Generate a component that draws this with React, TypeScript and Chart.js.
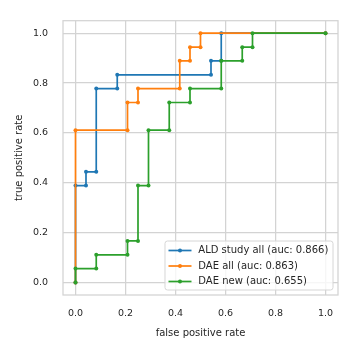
import { useEffect, useRef } from 'react';
import { Chart, registerables } from 'chart.js';

Chart.register(...registerables);

const seriesLabels = ['ALD study all (auc: 0.866)', 'DAE all (auc: 0.863)', 'DAE new (auc: 0.655)'];
const seriesColors = ['#1f77b4', '#ff7f0e', '#2ca02c'];

const aldFpr = [0, 0, 0.042, 0.042, 0.083, 0.083, 0.167, 0.167, 0.542, 0.542, 0.583, 0.583, 1.0];
const aldTpr = [0, 0.389, 0.389, 0.444, 0.444, 0.778, 0.778, 0.833, 0.833, 0.889, 0.889, 1.0, 1.0];

const daeAllFpr = [0, 0, 0.208, 0.208, 0.25, 0.25, 0.417, 0.417, 0.458, 0.458, 0.5, 0.5, 1.0];
const daeAllTpr = [0, 0.611, 0.611, 0.722, 0.722, 0.778, 0.778, 0.889, 0.889, 0.944, 0.944, 1.0, 1.0];

const daeNewFpr = [0, 0, 0.083, 0.083, 0.208, 0.208, 0.25, 0.25, 0.292, 0.292, 0.375, 0.375, 0.458, 0.458, 0.583, 0.583, 0.667, 0.667, 0.708, 0.708, 1.0];
const daeNewTpr = [0, 0.056, 0.056, 0.111, 0.111, 0.167, 0.167, 0.389, 0.389, 0.611, 0.611, 0.722, 0.722, 0.778, 0.778, 0.889, 0.889, 0.944, 0.944, 1.0, 1.0];

const tickValues = [0, 0.2, 0.4, 0.6, 0.8, 1.0];
const tickLabels = ['0.0', '0.2', '0.4', '0.6', '0.8', '1.0'];

const FONT = "'DejaVu Sans', sans-serif";
const TEXT = '#262626';
const GRID = '#d3d3d3';

const toPoints = (xs: number[], ys: number[]) => xs.map((x, i) => ({ x, y: ys[i] }));

const framePlugin = {
  id: 'frame',
  beforeDatasetsDraw(chart: any) {
    const { ctx, chartArea: a } = chart;
    ctx.save();
    ctx.strokeStyle = GRID;
    ctx.lineWidth = 1.25;
    ctx.strokeRect(a.left, a.top, a.right - a.left, a.bottom - a.top);
    ctx.restore();
  },
};

const legendPlugin = {
  id: 'boxLegend',
  afterDraw(chart: any) {
    const { ctx, chartArea: a } = chart;
    const ds = chart.data.datasets;
    ctx.save();
    ctx.font = `10px ${FONT}`;
    let maxW = 0;
    ds.forEach((d: any) => { maxW = Math.max(maxW, ctx.measureText(d.label).width); });
    const w = 33.3 + maxW + 4.7;
    const h = 49;
    const x0 = a.right - 5 - w;
    const y0 = a.bottom - 5 - h;
    ctx.beginPath();
    ctx.roundRect(x0, y0, w, h, 2.5);
    ctx.fillStyle = 'rgba(255,255,255,0.8)';
    ctx.fill();
    ctx.strokeStyle = '#d6d6d6';
    ctx.lineWidth = 1;
    ctx.stroke();
    ds.forEach((d: any, i: number) => {
      const cy = y0 + 9.5 + i * 15.5;
      ctx.strokeStyle = d.borderColor;
      ctx.lineWidth = 1.7;
      ctx.beginPath();
      ctx.moveTo(x0 + 3.5, cy);
      ctx.lineTo(x0 + 26.5, cy);
      ctx.stroke();
      ctx.fillStyle = d.borderColor;
      ctx.beginPath();
      ctx.arc(x0 + 15, cy, 2, 0, Math.PI * 2);
      ctx.fill();
      ctx.fillStyle = TEXT;
      ctx.textBaseline = 'middle';
      ctx.textAlign = 'left';
      ctx.fillText(d.label, x0 + 33.3, cy);
    });
    ctx.restore();
  },
};

export default function App() {
  const ref = useRef<HTMLCanvasElement | null>(null);
  useEffect(() => {
    if (!ref.current) return;
    const series = [
      toPoints(aldFpr, aldTpr),
      toPoints(daeAllFpr, daeAllTpr),
      toPoints(daeNewFpr, daeNewTpr),
    ];
    const chart = new Chart(ref.current, {
      type: 'scatter',
      data: {
        datasets: series.map((data, i) => ({
          label: seriesLabels[i],
          data,
          showLine: true,
          borderColor: seriesColors[i],
          backgroundColor: seriesColors[i],
          borderWidth: 1.7,
          pointRadius: 2,
          pointBorderWidth: 0,
          pointHoverRadius: 2,
          order: 2 - i,
          clip: false as any,
        })),
      },
      options: {
        animation: false,
        responsive: false,
        events: [],
        layout: { padding: { top: 14, right: 14, left: 0, bottom: 0 } },
        plugins: { legend: { display: false }, tooltip: { enabled: false } },
        scales: {
          x: {
            type: 'linear',
            min: -0.05,
            max: 1.05,
            afterBuildTicks: (s: any) => { s.ticks = tickValues.map((v) => ({ value: v })); },
            afterFit: (s: any) => { s.height = 57; },
            grid: { color: GRID, lineWidth: 1.25, drawTicks: false },
            border: { display: false },
            ticks: {
              padding: 13,
              color: TEXT,
              font: { family: FONT, size: 9.5 },
              maxRotation: 0,
              callback: (v: any) => tickLabels[tickValues.indexOf(Number(v))] ?? '',
            },
            title: {
              display: true,
              text: 'false positive rate',
              color: TEXT,
              font: { family: FONT, size: 10 },
              padding: { top: 0, bottom: 13 },
            },
          },
          y: {
            type: 'linear',
            min: -0.05,
            max: 1.05,
            afterBuildTicks: (s: any) => { s.ticks = tickValues.map((v) => ({ value: v })); },
            afterFit: (s: any) => { s.width = 63; },
            grid: { color: GRID, lineWidth: 1.25, drawTicks: false },
            border: { display: false },
            ticks: {
              padding: 15,
              color: TEXT,
              font: { family: FONT, size: 9.5 },
              callback: (v: any) => tickLabels[tickValues.indexOf(Number(v))] ?? '',
            },
            title: {
              display: true,
              text: 'true positive rate',
              color: TEXT,
              font: { family: FONT, size: 10 },
              padding: { top: 13, bottom: 0 },
            },
          },
        },
      },
      plugins: [framePlugin, legendPlugin],
    });
    return () => chart.destroy();
  }, []);
  return (
    <div style={{ position: 'absolute', left: 0, top: 0, width: 352, height: 352, background: '#fff' }}>
      <canvas ref={ref} width={352} height={352} style={{ display: 'block' }} />
    </div>
  );
}
